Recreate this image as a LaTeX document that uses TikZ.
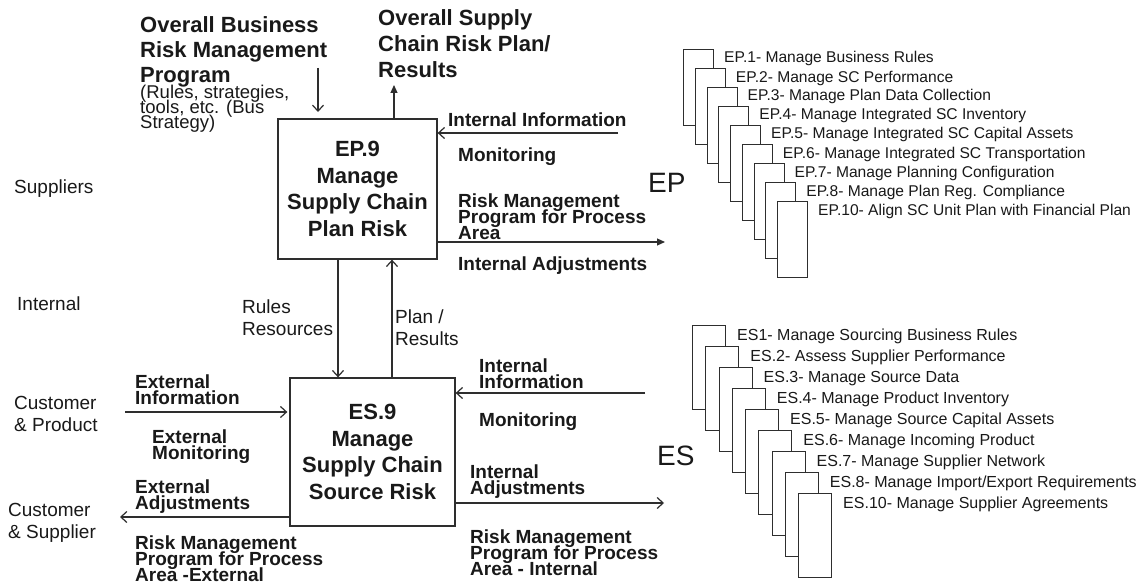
\documentclass[tikz,border=0pt]{standalone}
\usepackage{fontspec}
\setmainfont{Liberation Sans}
\usetikzlibrary{arrows.meta}
\definecolor{ink}{gray}{0.1}
\definecolor{lc}{gray}{0.18}
\newcommand\tightls{\lineskiplimit=-50pt\relax}
\begin{document}
\begin{tikzpicture}[x=1pt,y=-1pt,
  lbl/.style={anchor=north west, inner sep=0pt, align=left, text=ink},
  bold19/.style={lbl, font=\fontsize{19}{16.3}\selectfont\bfseries\tightls},
  reg19/.style={lbl, font=\fontsize{19}{22}\selectfont\tightls},
  big/.style={lbl, font=\fontsize{28}{30}\selectfont},
  procbox/.style={draw=lc, line width=1.3pt, fill=white, align=center, text=ink, inner sep=0pt,
    font=\fontsize{22}{26.5}\selectfont\bfseries\tightls},
  stackbox/.style={draw=lc, line width=1.1pt, fill=white, anchor=north west, inner sep=0pt},
  stacklbl/.style={anchor=base west, inner sep=0pt, text=ink},
  arr/.style={draw=lc, line width=1.2pt, -{Straight Barb[length=6pt,width=11pt]}},
  arrF/.style={draw=lc, line width=1.2pt, -{Triangle[length=8pt,width=7pt]}}
]
\useasboundingbox (0,0) rectangle (1144,586);
\fill[white] (0,0) rectangle (1144,586);

% ---- top-left inputs
\node[lbl, font=\fontsize{22}{25}\selectfont\bfseries\tightls] (obr) at (140,16.3)
  {Overall Business\\Risk Management\\Program};
\node[lbl, font=\fontsize{18.5}{15}\selectfont\tightls] (obrs) at (140,85)
  {(Rules, strategies,\\tools, etc. (Bus\\Strategy)};
\node[lbl, font=\fontsize{22}{26}\selectfont\bfseries\tightls] (oscr) at (378,9.3)
  {Overall Supply\\Chain Risk Plan/\\Results};

% ---- process boxes
\node[procbox, minimum width=159pt, minimum height=140pt] (ep) at (357.5,189)
  {EP.9\\Manage\\Supply Chain\\Plan Risk};
\node[procbox, minimum width=165pt, minimum height=148pt] (es) at (372.5,452)
  {ES.9\\Manage\\Supply Chain\\Source Risk};

% ---- connectors around EP.9
\coordinate (obA) at (318,68);
\coordinate (obB) at (318,112);
\draw[arr] (obA) -- (obB);
\coordinate (osT) at (394,85);
\draw[arrF] (ep.north -| osT) -- (osT);
\coordinate (iiE) at (618,133);
\draw[arr] (iiE) -- (iiE -| ep.east);
\coordinate (rmE) at (665,242);
\draw[arrF] (rmE -| ep.east) -- (rmE);

% ---- between boxes
\coordinate (rrX) at (338,0);
\coordinate (prX) at (392,0);
\draw[arr] (rrX |- ep.south) -- (rrX |- es.north);
\draw[arr] (prX |- es.north) -- (prX |- ep.south);

% ---- connectors around ES.9
\coordinate (eiW) at (125,412);
\draw[arr, shorten >=2pt] (eiW) -- (eiW -| es.west);
\coordinate (eaW) at (120,517);
\draw[arr] (eaW -| es.west) -- (eaW);
\coordinate (iiE2) at (645,393);
\draw[arr] (iiE2) -- (iiE2 -| es.east);
\coordinate (iaE) at (664,503);
\draw[arr] (iaE -| es.east) -- (iaE);

% ---- EP side labels
\node[bold19] (epii) at (448,112.4) {Internal Information};
\node[bold19] (epmo) at (458,147.4) {Monitoring};
\node[bold19] (eprm) at (458,193.4) {Risk Management\\Program for Process\\Area};
\node[bold19] (epia) at (458,256.4) {Internal Adjustments};
\node[big] (eptag) at (648,173) {EP};

% ---- far-left labels
\node[reg19] (sup) at (14,179.4) {Suppliers};
\node[reg19] (int) at (17,296.4) {Internal};
\node[reg19] (cp) at (14,396.4) {Customer\\\& Product};
\node[reg19] (cs) at (8,503.4) {Customer\\\& Supplier};

% ---- between-box labels
\node[reg19] (rr) at (242,299.4) {Rules\\Resources};
\node[reg19] (pr) at (395,309.4) {Plan /\\Results};

% ---- ES left labels
\node[bold19] (esei) at (135,374.4) {External\\Information};
\node[bold19] (esem) at (152,429.4) {External\\Monitoring};
\node[bold19] (esea) at (135,479.4) {External\\Adjustments};
\node[bold19] (esrm) at (135,535.4) {Risk Management\\Program for Process\\Area -External};

% ---- ES right labels
\node[bold19] (esii) at (479,358.4) {Internal\\Information};
\node[bold19] (esmo) at (479,412.4) {Monitoring};
\node[bold19] (esia) at (470,464.4) {Internal\\Adjustments};
\node[bold19] (esrmi) at (470,529.4) {Risk Management\\Program for Process\\Area - Internal};
\node[big] (estag) at (657,446) {ES};

% ---- EP stack
\foreach \t [count=\k from 0] in {
  {EP.1- Manage Business Rules},
  {EP.2- Manage SC Performance},
  {EP.3- Manage Plan Data Collection},
  {EP.4- Manage Integrated SC Inventory},
  {EP.5- Manage Integrated SC Capital Assets},
  {EP.6- Manage Integrated SC Transportation},
  {EP.7- Manage Planning Configuration},
  {EP.8- Manage Plan Reg. Compliance},
  {EP.10- Align SC Unit Plan with Financial Plan}} {
  \node[stackbox, minimum width=30pt, minimum height=76pt] (epb\k) at ({683+11.75*\k},{49+19*\k}) {};
  \node[stacklbl, font=\fontsize{15.6}{18}\selectfont] (epl\k) at ({683+11.75*\k+41},{49+19*\k+14}) {\t};
}

% ---- ES stack
\foreach \t [count=\k from 0] in {
  {ES1- Manage Sourcing Business Rules},
  {ES.2- Assess Supplier Performance},
  {ES.3- Manage Source Data},
  {ES.4- Manage Product Inventory},
  {ES.5- Manage Source Capital Assets},
  {ES.6- Manage Incoming Product},
  {ES.7- Manage Supplier Network},
  {ES.8- Manage Import/Export Requirements},
  {ES.10- Manage Supplier Agreements}} {
  \node[stackbox, minimum width=33pt, minimum height=84pt] (esb\k) at ({692+13.25*\k},{325+21*\k}) {};
  \node[stacklbl, font=\fontsize{16}{18}\selectfont] (esl\k) at ({692+13.25*\k+45},{325+21*\k+15}) {\t};
}
\end{tikzpicture}
\end{document}
